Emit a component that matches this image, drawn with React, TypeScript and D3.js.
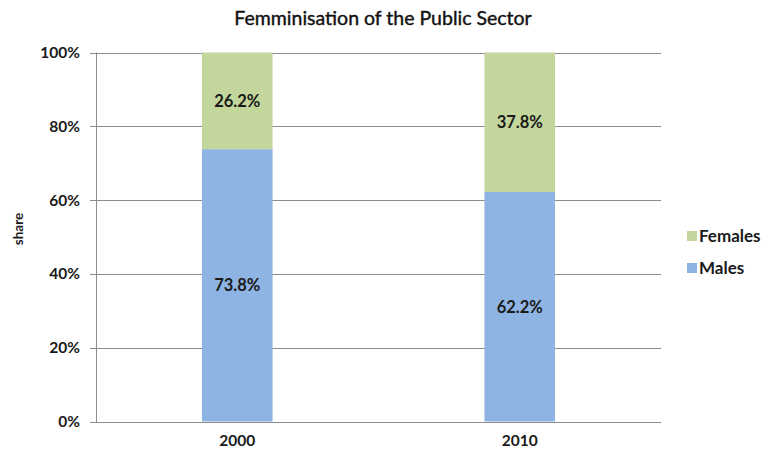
import React, { useEffect, useRef } from "react";
import * as d3 from "d3";

const categories = ["2000", "2010"];
const males = [73.8, 62.2];
const females = [26.2, 37.8];
const seriesNames = ["Males", "Females"];
const yTicks = [0, 20, 40, 60, 80, 100];
const colors = { Males: "#8eb4e3", Females: "#c3d69b" };

export default function App() {
  const ref = useRef<SVGSVGElement>(null);
  useEffect(() => {
    const svg = d3.select(ref.current);
    svg.selectAll("*").remove();
    const W = 763, H = 450;
    const left = 96, right = 661, top = 52.5, bottom = 421.5;
    const font = "Lato, 'Open Sans', sans-serif";

    svg.append("rect").attr("width", W).attr("height", H).attr("fill", "#fff");

    const x = d3.scaleBand<string>().domain(categories).range([left, right]).paddingInner(0).paddingOuter(0);
    const y = d3.scaleLinear().domain([0, 100]).range([bottom, top]);
    const barW = x.bandwidth() / 4;

    // gridlines
    svg.append("g").selectAll("line").data(yTicks).join("line")
      .attr("x1", left - 6).attr("x2", right)
      .attr("y1", d => Math.round(y(d)) + 0.5).attr("y2", d => Math.round(y(d)) + 0.5)
      .attr("stroke", "#8c8c8c").attr("stroke-width", 1);

    // y tick labels
    svg.append("g").selectAll("text").data(yTicks).join("text")
      .attr("x", left - 16).attr("y", d => y(d)).attr("dy", "0.35em")
      .attr("text-anchor", "end").attr("font-family", font).attr("font-weight", "bold")
      .attr("font-size", 15.5).attr("fill", "#1a1a1a").text(d => d + "%");

    const stacked = d3.stack<any>().keys(seriesNames)(
      categories.map((c, i) => ({ cat: c, Males: males[i], Females: females[i] }))
    );

    stacked.forEach(layer => {
      const g = svg.append("g");
      g.selectAll("rect").data(layer).join("rect")
        .attr("x", (d: any) => x(d.data.cat)! + x.bandwidth() / 2 - barW / 2)
        .attr("width", barW)
        .attr("y", (d: any) => y(d[1]))
        .attr("height", (d: any) => y(d[0]) - y(d[1]))
        .attr("fill", (colors as any)[layer.key]);
      g.selectAll("text").data(layer).join("text")
        .attr("x", (d: any) => x(d.data.cat)! + x.bandwidth() / 2)
        .attr("y", (d: any) => (y(d[0]) + y(d[1])) / 2).attr("dy", "0.35em")
        .attr("text-anchor", "middle").attr("font-family", font).attr("font-weight", "bold")
        .attr("font-size", 16.5).attr("fill", "#1a1a1a")
        .text((d: any) => (d[1] - d[0]).toFixed(1) + "%");
    });

    // axis lines
    svg.append("line").attr("x1", left + 0.5).attr("x2", left + 0.5).attr("y1", top).attr("y2", bottom + 0.5)
      .attr("stroke", "#8c8c8c");
    svg.append("line").attr("x1", left).attr("x2", right).attr("y1", Math.round(bottom) + 0.5).attr("y2", Math.round(bottom) + 0.5)
      .attr("stroke", "#8c8c8c");

    // x labels
    svg.append("g").selectAll("text").data(categories).join("text")
      .attr("x", d => x(d)! + x.bandwidth() / 2).attr("y", 441).attr("dy", "0.35em")
      .attr("text-anchor", "middle").attr("font-family", font).attr("font-weight", "bold")
      .attr("font-size", 15.5).attr("fill", "#1a1a1a").text(d => d);

    // title
    svg.append("text").attr("x", 383).attr("y", 25)
      .attr("text-anchor", "middle").attr("font-family", font).attr("font-weight", "normal")
      .attr("font-size", 19.5).attr("fill", "#111").attr("stroke", "#111").attr("stroke-width", 0.4)
      .text("Femminisation of the Public Sector");

    // y label
    svg.append("text").attr("transform", "translate(18,229) rotate(-90)").attr("dy", "0.35em")
      .attr("text-anchor", "middle").attr("font-family", font).attr("font-weight", "bold")
      .attr("font-size", 13.5).attr("fill", "#1a1a1a").text("share");

    // legend
    const legendItems = ["Females", "Males"];
    const lg = svg.append("g").selectAll("g").data(legendItems).join("g")
      .attr("transform", (d, i) => `translate(687,${236 + i * 32})`);
    lg.append("rect").attr("x", 0).attr("y", -5).attr("width", 10).attr("height", 10)
      .attr("fill", d => (colors as any)[d]);
    lg.append("text").attr("x", 12).attr("y", 0).attr("dy", "0.35em")
      .attr("font-family", font).attr("font-weight", "bold").attr("font-size", 17)
      .attr("fill", "#1a1a1a").text(d => d);
  }, []);
  return (
    <svg ref={ref} width={763} height={450} style={{ position: "absolute", left: 0, top: 0 }} />
  );
}
